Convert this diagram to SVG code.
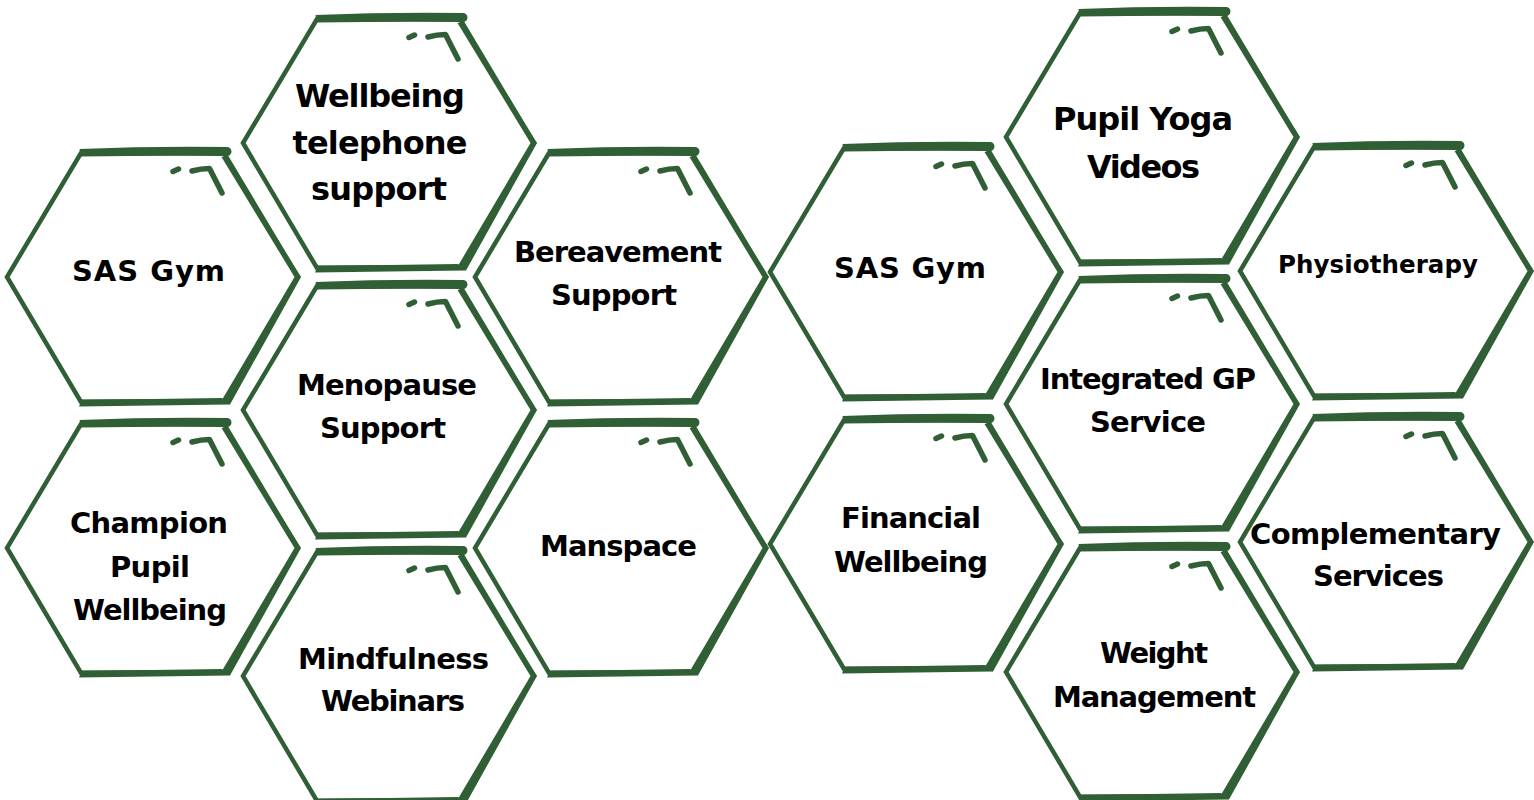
<svg xmlns="http://www.w3.org/2000/svg" xmlns:xlink="http://www.w3.org/1999/xlink" width="1534" height="800" viewBox="0 0 1534 800">
<style>
.edge{fill:none;stroke:#305E35;stroke-width:4.5;stroke-linejoin:miter}
.brush{fill:#305E35}
.deco{fill:none;stroke:#305E35;stroke-width:5.5;stroke-linecap:round;stroke-linejoin:round}
.t{font-family:"DejaVu Sans","Open Sans",sans-serif;font-weight:700;font-size:29px;fill:#000;text-anchor:middle}
.big{font-size:32px}
.small{font-size:24.5px}
</style>
<defs>
<g id="hex">
<polygon class="edge" points="-71,-124 72,-124 146,0 73,124 -71,125 -145,0"/>
<path class="brush" d="M -72.5,-128 Q 0,-131 75,-130 A 4.5,4.5 0 0 1 75,-121 Q 0,-121.5 -71,-120.5 Z"/>
<path class="brush" d="M 69.5,-120 L 73.5,-121 L 149,0 L 142.5,0 Z"/>
<path class="brush" d="M 142.5,0 L 149,0 L 78,127.5 L 69,124.5 Z"/>
<path class="brush" d="M 70,121 L 78,127.5 Q 0,128.5 -73,129.5 L -70,122.5 Q 0,122 70,121 Z"/>
<path class="deco" d="M 21,-105.5 L 26.5,-108"/>
<path class="deco" d="M 40,-106 Q 49,-108.5 57.5,-108.5 L 70,-84"/>
</g>
</defs>
<rect width="1534" height="800" fill="#fff"/>

<g id="n1"><use xlink:href="#hex" transform="translate(152,277)"/>
<text class="t" x="148.5" y="281" textLength="153" lengthAdjust="spacing">SAS Gym</text></g>

<g id="n2"><use xlink:href="#hex" transform="translate(388,143)"/>
<text class="t big" x="380" y="107" textLength="170" lengthAdjust="spacing">Wellbeing</text>
<text class="t big" x="380" y="154" textLength="175" lengthAdjust="spacing">telephone</text>
<text class="t big" x="379" y="200" textLength="136" lengthAdjust="spacing">support</text></g>

<g id="n3"><use xlink:href="#hex" transform="translate(620,277)"/>
<text class="t" x="618" y="262" textLength="208" lengthAdjust="spacing">Bereavement</text>
<text class="t" x="614" y="305" textLength="126" lengthAdjust="spacing">Support</text></g>

<g id="n4"><use xlink:href="#hex" transform="translate(388,410)"/>
<text class="t" x="387" y="395" textLength="180" lengthAdjust="spacing">Menopause</text>
<text class="t" x="383" y="438" textLength="126" lengthAdjust="spacing">Support</text></g>

<g id="n5"><use xlink:href="#hex" transform="translate(152,548)"/>
<text class="t" x="149" y="533" textLength="158" lengthAdjust="spacing">Champion</text>
<text class="t" x="150" y="577" textLength="80" lengthAdjust="spacing">Pupil</text>
<text class="t" x="150" y="620" textLength="154" lengthAdjust="spacing">Wellbeing</text></g>

<g id="n6"><use xlink:href="#hex" transform="translate(620,548)"/>
<text class="t" x="618.5" y="556" textLength="157" lengthAdjust="spacing">Manspace</text></g>

<g id="n7"><use xlink:href="#hex" transform="translate(388,676)"/>
<text class="t" x="393.5" y="669" textLength="191" lengthAdjust="spacing">Mindfulness</text>
<text class="t" x="393" y="711" textLength="144" lengthAdjust="spacing">Webinars</text></g>

<g id="n8"><use xlink:href="#hex" transform="translate(915,272)"/>
<text class="t" x="910" y="278" textLength="152" lengthAdjust="spacing">SAS Gym</text></g>

<g id="n9"><use xlink:href="#hex" transform="translate(1151,137)"/>
<text class="t big" x="1143" y="130" textLength="180" lengthAdjust="spacing">Pupil Yoga</text>
<text class="t big" x="1143.5" y="178" textLength="113" lengthAdjust="spacing">Videos</text></g>

<g id="n10"><use xlink:href="#hex" transform="translate(1385,271)"/>
<text class="t small" x="1378" y="273" textLength="200" lengthAdjust="spacing">Physiotherapy</text></g>

<g id="n11"><use xlink:href="#hex" transform="translate(1151,404)"/>
<text class="t" x="1148" y="389" textLength="216" lengthAdjust="spacing">Integrated GP</text>
<text class="t" x="1148" y="432" textLength="116" lengthAdjust="spacing">Service</text></g>

<g id="n12"><use xlink:href="#hex" transform="translate(915,544)"/>
<text class="t" x="911" y="528" textLength="140" lengthAdjust="spacing">Financial</text>
<text class="t" x="911" y="572" textLength="154" lengthAdjust="spacing">Wellbeing</text></g>

<g id="n13"><use xlink:href="#hex" transform="translate(1385,542)"/>
<text class="t" x="1375.5" y="544" textLength="251" lengthAdjust="spacing">Complementary</text>
<text class="t" x="1378.5" y="586" textLength="131" lengthAdjust="spacing">Services</text></g>

<g id="n14"><use xlink:href="#hex" transform="translate(1151,672)"/>
<text class="t" x="1154" y="663" textLength="108" lengthAdjust="spacing">Weight</text>
<text class="t" x="1154.5" y="707" textLength="203" lengthAdjust="spacing">Management</text></g>
</svg>
